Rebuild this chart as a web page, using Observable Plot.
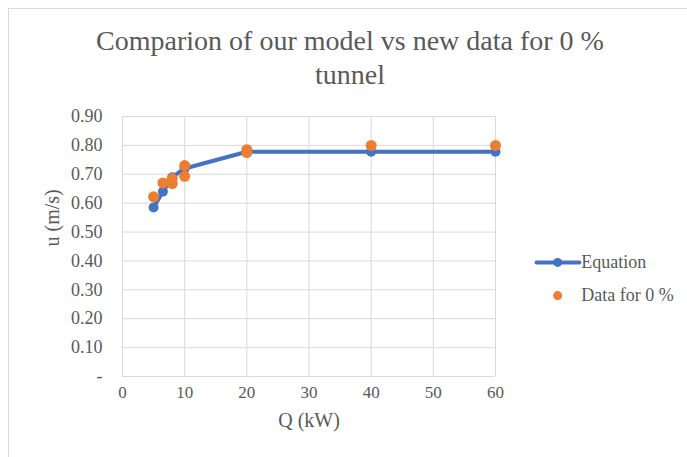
<!DOCTYPE html>
<html>
<head>
<meta charset="utf-8">
<script src="https://cdn.jsdelivr.net/npm/d3@7"></script>
<script src="https://cdn.jsdelivr.net/npm/@observablehq/plot@0.6"></script>
<style>
  html, body { margin: 0; padding: 0; background: #fff; }
  #wrap { position: relative; width: 687px; height: 457px; overflow: hidden; font-family: "Liberation Serif", "Times New Roman", serif; }
  #frame { position: absolute; left: 8px; top: 8px; width: 700px; height: 470px; border-left: 1px solid #d9d9d9; border-top: 1px solid #d9d9d9; }
  #title { position: absolute; left: 0; width: 700px; top: 24px; text-align: center; font-size: 28px; line-height: 34px; color: #595959; }
  #chart { position: absolute; left: 0; top: 0; }
</style>
</head>
<body>
<div id="wrap">
  <div id="frame"></div>
  <div id="chart"></div>
  <div id="title">Comparion of our model vs new data for 0 %<br>tunnel</div>
</div>
<script>
const equationQ = [5, 6.5, 8, 10, 20, 40, 60];
const equationU = [0.585, 0.64, 0.69, 0.72, 0.778, 0.778, 0.778];
const dataQ = [5, 6.5, 8, 8, 10, 10, 20, 20, 40, 60];
const dataU = [0.622, 0.67, 0.668, 0.685, 0.73, 0.693, 0.785, 0.775, 0.80, 0.80];
const xTicks = [0, 10, 20, 30, 40, 50, 60];
const yTicks = [0, 0.1, 0.2, 0.3, 0.4, 0.5, 0.6, 0.7, 0.8, 0.9];
const seriesNames = ["Equation", "Data for 0 %"];

const eq = equationQ.map((q, i) => ({q, u: equationU[i]}));
const dt = dataQ.map((q, i) => ({q, u: dataU[i]}));
const blue = "#4472C4", orange = "#ED7D31", grid = "#d9d9d9", txt = "#595959";
const font = '"Liberation Serif", "Times New Roman", serif';

const legend = [
  {name: seriesNames[0], y: 0.395},
  {name: seriesNames[1], y: 0.28}
];

const chart = Plot.plot({
  width: 687,
  height: 457,
  marginLeft: 122,
  marginRight: 192,
  marginTop: 116,
  marginBottom: 81,
  style: {fontFamily: font, fontSize: "18px", color: txt, background: "transparent", overflow: "visible"},
  x: {domain: [0, 60], ticks: xTicks},
  y: {domain: [0, 0.9], ticks: yTicks},
  marks: [
    Plot.gridX(xTicks, {stroke: grid, strokeOpacity: 1, strokeWidth: 1}),
    Plot.gridY(yTicks, {stroke: grid, strokeOpacity: 1, strokeWidth: 1}),
    Plot.ruleX([0], {stroke: grid, strokeWidth: 1}),
    Plot.ruleY([0], {stroke: grid, strokeWidth: 1}),
    Plot.axisX(xTicks, {tickSize: 0, tickPadding: 9, fill: txt, fontSize: 17, label: null}),
    Plot.axisY(yTicks, {tickSize: 0, tickPadding: 20, fill: txt, fontSize: 18, label: null,
      tickFormat: d => d === 0 ? "-" : d.toFixed(2)}),
    Plot.text(["Q (kW)"], {frameAnchor: "bottom", dy: 50, fill: txt, fontSize: 20}),
    Plot.text(["u (m/s)"], {frameAnchor: "left", dx: -70, rotate: -90, fill: txt, fontSize: 20}),
    Plot.line(eq, {x: "q", y: "u", stroke: blue, strokeWidth: 4}),
    Plot.dot(eq, {x: "q", y: "u", r: 5, fill: blue}),
    Plot.dot(dt, {x: "q", y: "u", r: 5.5, fill: orange}),
    // legend
    Plot.line([{x: 66.6, y: legend[0].y}, {x: 73.5, y: legend[0].y}], {x: "x", y: "y", stroke: blue, strokeWidth: 4, clip: false}),
    Plot.dot([legend[0]], {x: () => 70, y: "y", r: 4.5, fill: blue, clip: false}),
    Plot.dot([legend[1]], {x: () => 70, y: "y", r: 4.5, fill: orange, clip: false}),
    Plot.text(legend, {x: () => 73.8, y: "y", text: "name", textAnchor: "start", fill: txt, fontSize: 18, clip: false})
  ]
});
document.getElementById("chart").appendChild(chart);
</script>
</body>
</html>
